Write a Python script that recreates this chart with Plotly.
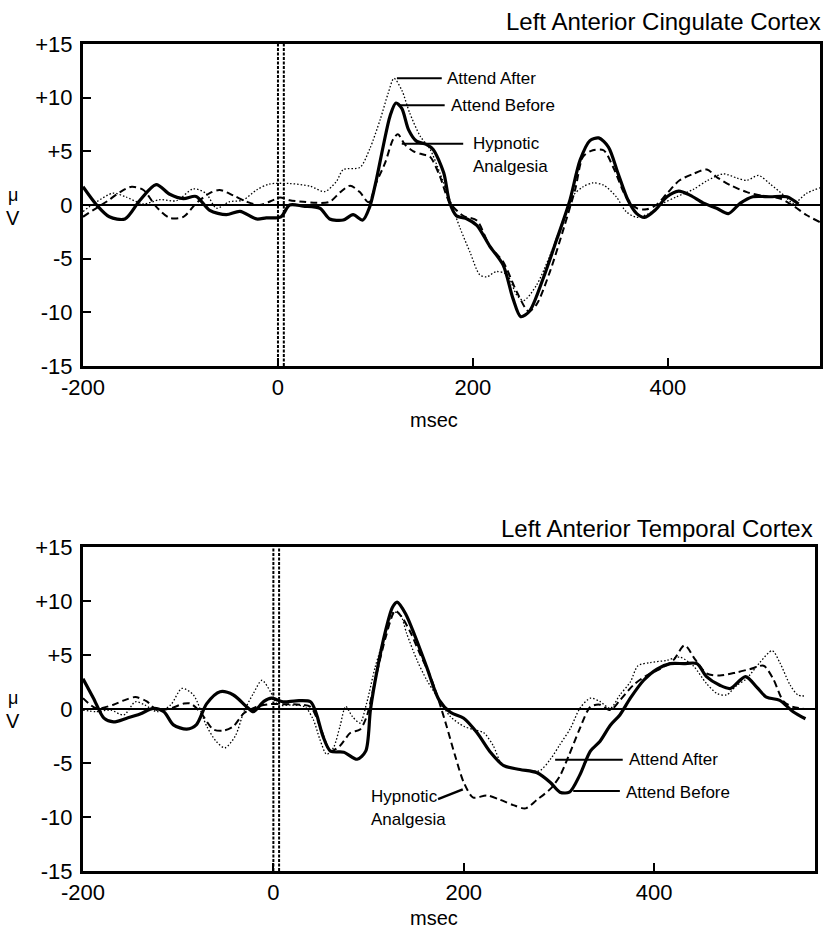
import plotly.graph_objects as go

# ---------------- Top panel: Left Anterior Cingulate Cortex ----------------
top_before_x = [-200,-186,-173,-157,-142,-125,-111,-97,-84,-70,-53,-39,-22,-12,3,12,26,43,53,67,77,87,94,101,108,115,121,127,134,142,152,159,170,176,183,194,204,217,231,241,249,258,272,286,299,310,320,329,339,349,359,368,376,387,399,411,423,436,450,462,474,487,505,522,534]
top_before_y = [1.7,0,-1.1,-1.3,0.4,1.9,1.0,0.6,0.8,-0.5,-0.9,-0.6,-1.3,-1.2,-1.1,0,-0.1,-0.3,-1.3,-1.4,-0.9,-1.4,-0.2,2.4,5.5,8.3,9.5,9.0,7.0,5.95,5.65,5.2,3.0,0.25,-1.0,-1.3,-1.9,-3.8,-5.6,-8.7,-10.4,-9.9,-6.85,-3.2,0.3,4.2,6.0,6.25,5.4,2.9,0.46,-0.8,-1.15,-0.46,0.77,1.3,0.9,0.2,-0.3,-0.8,0.15,0.77,0.77,0.77,0.1]

top_hyp_x = [-200,-190,-176,-162,-150,-138,-125,-111,-97,-84,-70,-60,-46,-32,-19,-5,2,12,26,39,53,64,74,84,93,101,110,118,123,130,139,149,156,166,176,190,204,217,231,245,257,265,279,293,305,313,323,334,344,357,368,378,388,399,412,426,440,450,464,481,498,515,529,542,556]
top_hyp_y = [-1.1,-0.5,0.3,1.2,1.7,1.4,-0.15,-1.2,-1.1,0.15,1.1,1.4,0.9,0.3,0,0.45,0.7,0.45,0.3,0.2,0.3,1.2,1.8,1.2,0.25,2.1,3.95,6.1,6.6,5.65,5.0,4.7,4.5,2.7,0.25,-1.0,-1.45,-3.8,-5.3,-8.1,-9.9,-9.3,-6.2,-2.2,1.5,4.5,5.1,5.1,3.5,0.77,-0.3,-0.4,0,1.07,2.3,2.9,3.3,2.6,1.85,1.2,0.83,0.6,-0.1,-0.93,-1.6]

top_after_x = [-200,-186,-169,-156,-138,-121,-104,-87,-74,-63,-50,-36,-22,-9,12,33,48,60,67,84,94,105,113,119,127,135,146,156,166,176,187,197,207,214,224,235,245,252,265,279,293,303,313,323,334,347,357,368,381,395,409,426,440,457,471,481,493,505,519,529,542,556]
top_after_y = [-0.6,0.3,1.1,0.75,0.1,0.5,0.4,1.5,1.1,-0.3,0.3,0.45,1.4,1.95,2.0,1.75,1.25,2.2,3.3,3.5,5.2,8.0,10.4,11.8,10.7,8.6,6.4,5.2,3.0,0.55,-2.2,-4.4,-6.5,-6.7,-6.2,-6.5,-8.4,-8.9,-7.5,-4.7,-1.3,0.9,1.7,2.06,1.85,0.77,-0.6,-1.15,-0.77,0.15,0.77,1.45,2.25,2.9,2.5,2.3,2.75,1.95,0.9,0.15,1.07,1.6]

# ---------------- Bottom panel: Left Anterior Temporal Cortex ----------------
bot_before_x = [-200,-189,-178,-168,-154,-140,-126,-115,-105,-91,-81,-70,-56,-42,-28,-21,-10,-2,10,24,39,45,52,60,74,88,97,102,109,118,125,130,139,149,161,174,186,200,214,228,242,259,277,291,301,311,322,333,343,354,364,375,389,403,417,431,445,455,469,480,496,508,518,532,546,559]
bot_before_y = [2.8,1.0,-0.85,-1.2,-0.85,-0.46,0.06,-0.25,-1.47,-1.86,-1.47,0.5,1.6,1.3,0.2,-0.25,0.7,1.0,0.67,0.76,0.67,-0.4,-2.5,-3.9,-4.0,-4.65,-3.9,-0.06,3.6,7.3,9.4,9.9,8.8,6.7,3.9,0.85,-0.3,-0.85,-2.2,-4.0,-5.25,-5.6,-5.9,-6.8,-7.7,-7.7,-6.1,-3.9,-3.0,-1.5,-0.55,1.0,2.66,3.7,4.2,4.2,4.2,3.0,2.2,1.9,3.0,2.0,1.1,0.8,-0.25,-0.9]

bot_hyp_x = [-200,-186,-168,-157,-145,-133,-122,-108,-94,-87,-77,-63,-52,-42,-31,-18,-3,10,28,39,49,60,70,81,91,98,107,118,128,135,144,154,165,174,182,191,200,210,224,238,252,265,277,291,301,310,322,333,343,354,364,378,392,406,420,432,443,455,469,487,501,515,525,536,546,559]
bot_hyp_y = [1.0,0.06,0.4,0.8,1.1,0.7,-0.1,0.06,0.5,0.5,-0.25,-1.9,-2.0,-1.6,-0.4,0.2,0.45,0.45,0.4,0.2,-1.6,-3.9,-3.4,-2.2,-1.9,-0.7,2.7,6.65,9.1,8.5,7.1,5.1,3.0,0.7,-1.6,-4.35,-6.8,-8.2,-8.0,-8.4,-8.9,-9.2,-8.4,-7.4,-6.2,-4.4,-1.8,0.2,0.4,-0.1,0.8,2.2,3.1,3.7,4.5,5.9,4.6,3.3,3.1,3.4,3.7,4.0,2.8,0.7,0.2,0.0]

bot_after_x = [-200,-186,-171,-157,-145,-135,-122,-108,-96,-84,-70,-60,-51,-40,-31,-21,-12,-3,5,18,33,42,49,56,63,70,76,83,91,98,107,118,126,133,140,151,161,172,186,200,210,221,231,240,252,266,280,291,301,312,322,333,343,354,364,375,383,396,413,427,441,455,466,476,487,497,511,524,532,543,551,559]
bot_after_y = [-0.1,-0.25,-0.1,-0.55,0.67,0.37,-0.25,0.37,1.9,1.3,-1.6,-3.0,-3.6,-2.5,-0.25,1.44,2.66,1.6,0.37,0.37,0.2,-1.0,-2.85,-4.2,-3.6,-1.6,0.24,-0.7,-1.3,0.55,3.9,7.0,8.95,8.8,7.0,4.5,2.7,1.16,-0.7,-1.6,-1.9,-2.2,-3.4,-5.1,-5.5,-5.7,-5.7,-4.65,-3.3,-1.8,0.06,1.0,0.7,0.06,1.3,2.5,4.0,4.3,4.5,4.8,4.0,2.36,1.44,1.3,2.2,2.8,4.3,5.4,4.3,2.2,1.3,1.2]

# ---------------- Axis ticks / labels ----------------
y_tickvals = [-15, -10, -5, 0, 5, 10, 15]
y_ticktext = ["-15", "-10", "-5", "0", "+5", "+10", "+15"]
x_tickvals = [-200, 0, 200, 400]
x_ticktext = ["-200", "0", "200", "400"]
onset_lines = [0, 6]
panel_titles = ["Left Anterior Cingulate Cortex", "Left Anterior Temporal Cortex"]

FONT = "Liberation Sans, Arial, Helvetica, sans-serif"
W, H = 828, 940

styles = {
    "before": dict(color="black", width=3.2),
    "after": dict(color="black", width=1.3, dash="1.5px,2px"),
    "hyp": dict(color="black", width=2, dash="7px,4px"),
}

fig = go.Figure()
panels = [
    ("x", "y", [(top_after_x, top_after_y, "after", "Attend After"),
                (top_hyp_x, top_hyp_y, "hyp", "Hypnotic Analgesia"),
                (top_before_x, top_before_y, "before", "Attend Before")]),
    ("x2", "y2", [(bot_after_x, bot_after_y, "after", "Attend After"),
                  (bot_hyp_x, bot_hyp_y, "hyp", "Hypnotic Analgesia"),
                  (bot_before_x, bot_before_y, "before", "Attend Before")]),
]
for xa, ya, series in panels:
    for xs, ys, st, name in series:
        fig.add_trace(go.Scatter(x=xs, y=ys, mode="lines", name=name,
                                 line=dict(shape="spline", smoothing=0.8, **styles[st]),
                                 xaxis=xa, yaxis=ya, showlegend=False, hoverinfo="skip"))

def px2fx(px):
    return px / W

def py2fy(py):
    return 1 - py / H

axis_common = dict(showline=True, linewidth=3, linecolor="black", mirror=True,
                   ticks="inside", ticklen=8, tickwidth=2, tickcolor="black",
                   showgrid=False, automargin=False,
                   tickfont=dict(family=FONT, size=22, color="black"))

fig.update_layout(
    template="none",
    font=dict(family=FONT, color="black"),
    width=W, height=H, autosize=False,
    margin=dict(l=0, r=0, t=0, b=0, pad=0),
    paper_bgcolor="white", plot_bgcolor="white", showlegend=False,
    xaxis=dict(domain=[px2fx(83), px2fx(820)], range=[-200, 556], anchor="y",
               tickvals=x_tickvals, ticktext=x_ticktext, zeroline=False,
               ticklabelstandoff=0, **axis_common),
    yaxis=dict(domain=[py2fy(366), py2fy(44)], range=[-15, 15], anchor="x",
               tickvals=y_tickvals, ticktext=y_ticktext,
               zeroline=True, zerolinewidth=2, zerolinecolor="black",
               ticklabelstandoff=3, **axis_common),
    xaxis2=dict(domain=[px2fx(83), px2fx(815)], range=[-200, 569], anchor="y2",
                tickvals=x_tickvals, ticktext=x_ticktext, zeroline=False,
                ticklabelstandoff=0, **axis_common),
    yaxis2=dict(domain=[py2fy(871), py2fy(547)], range=[-15, 15], anchor="x2",
                tickvals=y_tickvals, ticktext=y_ticktext,
                zeroline=True, zerolinewidth=1.6, zerolinecolor="black",
                ticklabelstandoff=3, **axis_common),
)

# stimulus onset double lines
for xr, yr in [("x", "y"), ("x2", "y2")]:
    for xv in onset_lines:
        fig.add_shape(type="line", xref=xr, yref=yr, x0=xv, x1=xv, y0=-15, y1=15,
                      line=dict(color="black", width=2, dash="3px,1.5px"))

ann = []
# panel titles
ann.append(dict(text=panel_titles[0], x=px2fx(823), y=py2fy(22), xref="paper", yref="paper",
                xanchor="right", yanchor="middle", showarrow=False,
                font=dict(family=FONT, size=24, color="black")))
ann.append(dict(text=panel_titles[1], x=px2fx(815), y=py2fy(528), xref="paper", yref="paper",
                xanchor="right", yanchor="middle", showarrow=False,
                font=dict(family=FONT, size=24, color="black")))
# msec labels
for py in (420, 918):
    ann.append(dict(text="msec", x=px2fx(434), y=py2fy(py), xref="paper", yref="paper",
                    xanchor="center", yanchor="middle", showarrow=False,
                    font=dict(family=FONT, size=20, color="black")))
# microvolt labels
for pmu, pv in ((195, 218), (698, 721)):
    ann.append(dict(text="μ", x=px2fx(13), y=py2fy(pmu), xref="paper", yref="paper",
                    xanchor="center", yanchor="middle", showarrow=False,
                    font=dict(family=FONT, size=18, color="black")))
    ann.append(dict(text="V", x=px2fx(13), y=py2fy(pv), xref="paper", yref="paper",
                    xanchor="center", yanchor="middle", showarrow=False,
                    font=dict(family=FONT, size=20, color="black")))

LBL = dict(family=FONT, size=17, color="black")
# top panel series labels (x in ms, y in µV)
top_labels = [("Attend After", 122, 168, 11.8, 171),
              ("Attend Before", 125, 171, 9.3, 175),
              ("Hypnotic", 127, 190, 5.7, 198)]
for txt, x0, x1, yv, xt in top_labels:
    fig.add_shape(type="line", xref="x", yref="y", x0=x0, x1=x1, y0=yv, y1=yv,
                  line=dict(color="black", width=2))
    ann.append(dict(text=txt, x=xt, y=yv, xref="x", yref="y", xanchor="left",
                    yanchor="middle", showarrow=False, font=LBL))
ann.append(dict(text="Analgesia", x=198, y=3.6, xref="x", yref="y", xanchor="left",
                yanchor="middle", showarrow=False, font=LBL))

# bottom panel series labels
fig.add_shape(type="line", xref="x2", yref="y2", x0=296, x1=367, y0=-4.7, y1=-4.7,
              line=dict(color="black", width=2))
ann.append(dict(text="Attend After", x=372, y=-4.7, xref="x2", yref="y2", xanchor="left",
                yanchor="middle", showarrow=False, font=LBL))
fig.add_shape(type="line", xref="x2", yref="y2", x0=315, x1=364, y0=-7.6, y1=-7.6,
              line=dict(color="black", width=2))
ann.append(dict(text="Attend Before", x=368, y=-7.7, xref="x2", yref="y2", xanchor="left",
                yanchor="middle", showarrow=False, font=LBL))
fig.add_shape(type="line", xref="x2", yref="y2", x0=173, x1=199, y0=-8.35, y1=-7.45,
              line=dict(color="black", width=2.5))
ann.append(dict(text="Hypnotic", x=100, y=-8.1, xref="x2", yref="y2", xanchor="left",
                yanchor="middle", showarrow=False, font=LBL))
ann.append(dict(text="Analgesia", x=100, y=-10.2, xref="x2", yref="y2", xanchor="left",
                yanchor="middle", showarrow=False, font=LBL))

fig.update_layout(annotations=ann)
fig.write_html("out.html", config={"displayModeBar": False},
               post_script="document.body.style.margin='0px';")
